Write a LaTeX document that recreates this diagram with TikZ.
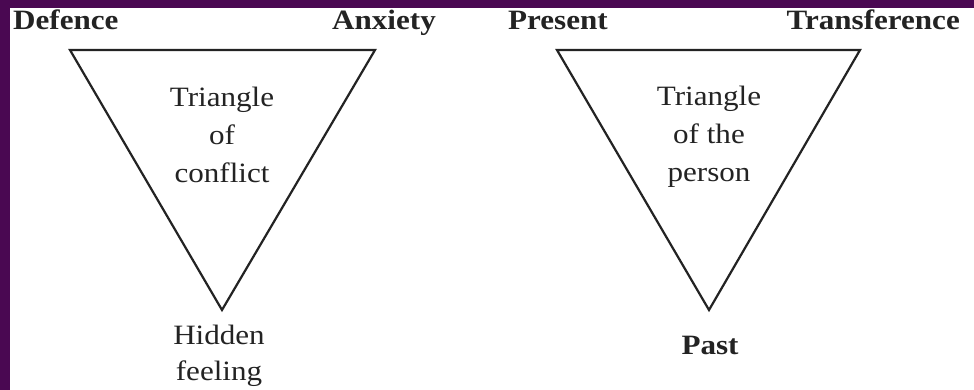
\documentclass[tikz,border=0pt]{standalone}
\usepackage{fontspec}
\setmainfont{Liberation Serif}[FakeStretch=1.11]
\usetikzlibrary{positioning}
\definecolor{FramePurple}{RGB}{74,8,82}
\definecolor{InkGray}{RGB}{35,35,35}

\begin{document}
\begin{tikzpicture}[x=1pt,y=1pt,
  cornerlabel/.style={font=\fontsize{28}{38}\selectfont\bfseries,inner sep=0pt,text=InkGray},
  insidelabel/.style={font=\fontsize{28}{38}\selectfont,align=center,inner sep=0pt,text=InkGray},
  triedge/.style={InkGray,line width=2.2pt,line join=miter}]
\fill[FramePurple](0,0)rectangle(974,390);
\fill[white](10,0)rectangle(974,382);
\useasboundingbox(0,0)rectangle(974,390);
\coordinate(cfl)at(70,340);
\coordinate(cfr)at(375,340);
\coordinate(cfa)at(222,80);
\draw[triedge](cfl)--(cfr)--(cfa)--cycle;
\node[cornerlabel,anchor=base west](defence)at(13,360){Defence};
\node[cornerlabel,anchor=base west](anxiety)at(332,360){Anxiety};
\node[insidelabel,anchor=base](conflict)at(222,207){Triangle\\of\\conflict};
\node[insidelabel,anchor=base,font=\fontsize{28}{36}\selectfont](hidden)at(219,9){Hidden\\feeling};
\coordinate(psl)at(557,340);
\coordinate(psr)at(860,340);
\coordinate(psa)at(709,80);
\draw[triedge](psl)--(psr)--(psa)--cycle;
\node[cornerlabel,anchor=base west](present)at(508,360){Present};
\node[cornerlabel,anchor=base east](transference)at(960,360){Transference};
\node[insidelabel,anchor=base](person)at(709,208){Triangle\\of the\\person};
\node[cornerlabel,anchor=base](past)at(710,35){Past};
\end{tikzpicture}
\end{document}
